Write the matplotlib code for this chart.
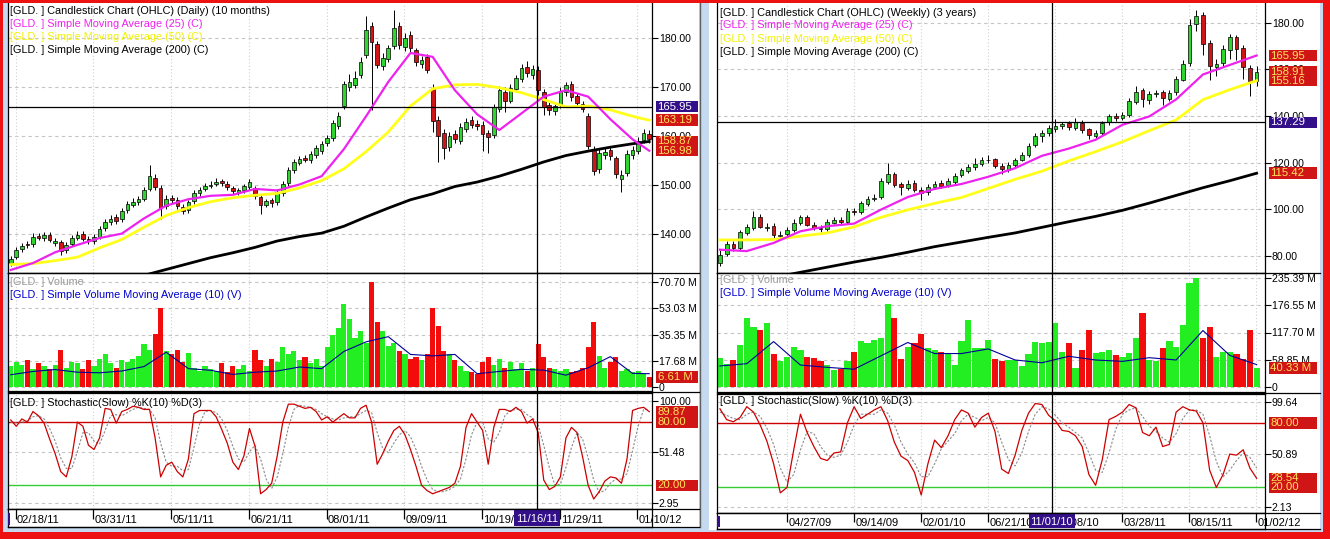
import numpy as np
import matplotlib.pyplot as plt
from matplotlib.patches import Rectangle
from matplotlib.lines import Line2D

plt.rcParams['font.family'] = ['Liberation Sans', 'DejaVu Sans']
W, H = 1330, 539
FS = 7.6

# ---------------- daily chart (one candle per two sessions), 10 months ----------------
d_open = [134.2, 135.4, 136.9, 137.9, 137.9, 139.6, 139.2, 139.9, 138.2, 138.3,
          136.7, 138.0, 139.3, 140.0, 139.1, 138.6, 139.5, 141.2, 142.4, 143.4,
          143.0, 144.9, 146.0, 146.5, 147.2, 149.2, 151.5, 149.3, 145.8, 147.4,
          147.0, 145.6, 145.0, 146.7, 148.3, 149.2, 149.8, 150.3, 150.8, 150.3,
          149.3, 148.5, 148.9, 149.6, 149.4, 147.5, 146.0, 146.9, 146.6, 148.4,
          150.5, 153.1, 154.5, 155.6, 155.0, 156.1, 157.0, 158.6, 159.6, 162.1,
          166.0, 170.0, 170.4, 172.4, 176.5, 182.4, 178.7, 174.2, 175.7, 178.4,
          182.4, 178.1, 180.6, 177.4, 174.6, 176.0, 169.8, 163.2, 160.6, 157.8,
          160.4, 159.0, 161.4, 163.2, 162.5, 162.2, 160.6, 160.2, 165.5, 169.0,
          167.2, 169.6, 171.6, 174.1, 172.4, 173.4, 168.9, 166.3, 165.0, 166.4,
          169.0, 170.6, 168.1, 166.4, 164.0, 157.2, 153.3, 156.2, 157.1, 155.4,
          151.2, 152.5, 156.2, 157.0, 159.2, 160.4]
d_high = [135.5, 137.4, 138.2, 138.5, 140.2, 140.3, 140.5, 140.4, 139.3, 138.9,
          138.4, 139.8, 140.6, 140.6, 139.6, 140.0, 141.6, 143.0, 143.8, 144.0,
          145.3, 146.8, 147.3, 147.8, 149.6, 154.0, 152.3, 150.0, 147.9, 147.9,
          147.6, 146.2, 147.0, 149.0, 149.6, 150.4, 150.8, 151.4, 151.3, 150.8,
          149.8, 149.4, 150.3, 151.2, 149.9, 147.9, 147.2, 147.4, 149.1, 150.8,
          153.6, 155.2, 155.9, 156.2, 156.9, 158.2, 159.0, 160.1, 163.3, 164.8,
          171.2, 172.6, 173.2, 176.0, 184.4, 183.2, 179.4, 176.8, 178.6, 185.6,
          183.2, 181.0, 181.4, 178.0, 176.3, 176.6, 170.5, 164.0, 161.4, 160.8,
          161.2, 162.6, 163.6, 164.0, 163.2, 163.0, 161.2, 166.5, 170.2, 170.0,
          170.6, 172.5, 174.6, 175.2, 174.4, 174.2, 169.6, 167.0, 166.8, 170.0,
          171.0, 171.2, 168.8, 167.2, 164.6, 158.0, 157.3, 157.5, 157.8, 156.0,
          153.0, 157.1, 157.9, 159.7, 161.5, 161.2]
d_low = [133.6, 135.0, 136.4, 137.2, 137.4, 138.7, 138.6, 138.3, 137.6, 135.8,
         136.1, 137.5, 138.8, 138.5, 137.9, 138.0, 139.0, 140.6, 141.9, 142.0,
         142.5, 144.3, 145.5, 146.0, 146.7, 148.7, 149.0, 143.0, 145.2, 146.2,
         145.2, 144.0, 144.4, 146.2, 147.8, 148.7, 149.3, 149.7, 149.9, 148.9,
         148.2, 147.9, 148.3, 149.0, 147.2, 144.1, 145.5, 145.5, 146.0, 147.8,
         149.9, 152.5, 154.0, 154.6, 154.4, 155.5, 156.4, 158.0, 159.0, 161.5,
         165.5, 169.2, 169.8, 171.8, 175.8, 165.2, 173.8, 173.5, 175.0, 177.6,
         177.6, 177.3, 177.1, 174.2, 173.8, 172.8, 160.8, 154.6, 155.2, 157.0,
         158.6, 158.3, 160.8, 161.6, 161.3, 157.0, 156.6, 159.5, 164.8, 164.9,
         166.8, 169.0, 170.9, 172.0, 171.6, 168.4, 164.3, 164.2, 164.3, 165.7,
         168.2, 167.2, 165.9, 164.8, 157.3, 152.0, 152.4, 155.3, 155.1, 151.4,
         148.6, 151.8, 155.3, 156.4, 158.6, 158.6]
d_close = [135.0, 136.8, 137.6, 137.8, 139.5, 139.3, 139.8, 138.8, 138.6, 136.5,
           137.8, 139.2, 139.9, 139.0, 138.5, 139.4, 141.0, 142.5, 143.1, 142.6,
           144.8, 146.2, 146.6, 147.1, 149.0, 151.9, 149.6, 145.4, 147.2, 146.9,
           145.8, 144.8, 146.5, 148.4, 149.0, 149.7, 150.1, 150.7, 150.5, 149.5,
           148.8, 148.9, 149.8, 150.6, 147.8, 146.0, 146.7, 146.3, 148.6, 150.2,
           153.0, 154.6, 155.3, 155.1, 156.3, 157.6, 158.3, 159.5, 162.7, 164.0,
           170.5, 171.0, 171.8, 175.0, 181.5, 179.2, 174.5, 175.9, 177.9, 182.0,
           178.5, 180.0, 178.0, 175.0, 175.5, 173.5, 163.0, 160.0, 157.5, 160.0,
           159.3, 161.8, 162.8, 162.3, 162.0, 160.3, 159.7, 165.8, 169.4, 167.1,
           169.8, 171.8, 173.8, 172.8, 173.7, 169.3, 165.8, 165.2, 166.0, 169.2,
           170.3, 168.0, 166.7, 165.5, 158.0, 152.9, 156.6, 156.8, 156.0, 152.2,
           152.1, 156.4, 157.2, 159.0, 160.6, 159.4]
d_volume = [14, 17, 15, 18, 12, 16, 14, 12, 15, 25,
            13, 17, 16, 12, 18, 14, 19, 22, 16, 13,
            18, 17, 19, 21, 29, 25, 36, 53, 24, 22,
            25, 17, 23, 13, 11, 14, 12, 11, 16, 10,
            14, 12, 15, 11, 25, 18, 14, 19, 17, 27,
            22, 24, 18, 20, 16, 19, 14, 27, 35, 40,
            56, 46, 33, 38, 30, 71, 44, 38, 28, 30,
            24, 22, 19, 20, 18, 22, 53, 41, 24, 22,
            18, 14, 11, 10, 9, 17, 20, 15, 19, 13,
            17, 12, 16, 11, 13, 29, 20, 13, 12, 11,
            12, 10, 11, 13, 27, 44, 21, 13, 17, 20,
            11, 12, 10, 11, 9, 6.61]
d_stoch_k = [82, 76, 83, 80, 90, 86, 79, 64, 50, 33,
             28, 47, 80, 76, 58, 54, 65, 93, 92, 79,
             90, 92, 95, 94, 92, 92, 65, 28, 39, 42,
             33, 28, 45, 88, 91, 91, 91, 85, 73, 60,
             42, 35, 48, 74, 57, 12, 16, 22, 48, 80,
             97, 97, 95, 93, 94, 90, 82, 85, 80, 84,
             88, 84, 84, 93, 96, 80, 40, 50, 62, 72,
             76, 68, 54, 38, 20, 15, 12, 14, 16, 18,
             22, 38, 75, 88, 80, 72, 40, 75, 92, 92,
             90, 94, 90, 79, 83, 70, 25, 16, 19, 28,
             65, 75, 70, 47, 20, 7, 14, 24, 28, 27,
             22, 45, 91, 93, 94, 89.87]
d_stoch_d = [80, 79, 80, 81, 85, 86, 83, 74, 62, 46,
             36, 36, 52, 70, 70, 62, 59, 72, 86, 87,
             86, 89, 92, 94, 93, 92, 84, 60, 42, 38,
             38, 34, 35, 56, 78, 90, 91, 89, 83, 72,
             57, 45, 42, 52, 58, 45, 26, 17, 28, 50,
             75, 92, 96, 95, 94, 92, 88, 85, 83, 82,
             84, 85, 85, 88, 91, 89, 70, 55, 51, 60,
             68, 72, 66, 54, 38, 25, 16, 14, 14, 16,
             19, 26, 45, 68, 80, 80, 64, 61, 70, 86,
             91, 92, 92, 87, 84, 77, 58, 37, 20, 21,
             37, 56, 70, 64, 46, 25, 13, 15, 22, 26,
             26, 31, 53, 76, 92, 92]
# moving averages read every 4th candle, plus the last one
d_sma25 = [132.7, 134.1, 136.3, 137.8, 139.2, 140.1, 143.2, 145.8, 147.1, 147.8,
           148.0, 149.2, 148.9, 150.1, 151.8, 157.3, 164.0, 171.0, 176.9, 176.1,
           169.3, 164.4, 161.2, 164.6, 168.0, 169.3, 168.0, 163.4, 159.3, 156.98]
d_sma50 = [133.8, 134.0, 134.6, 135.3, 137.2, 138.9, 141.4, 143.8, 145.4, 146.6,
           147.4, 147.9, 148.3, 149.4, 150.9, 153.3, 156.8, 160.8, 166.1, 169.6,
           170.4, 170.5, 169.8, 168.8, 167.4, 165.9, 166.1, 165.3, 164.0, 163.19]
d_sma200 = [124.0, 125.3, 126.5, 127.8, 129.0, 130.3, 131.6, 132.8, 134.0, 135.2,
            136.2, 137.3, 138.6, 139.5, 140.2, 141.6, 143.5, 145.3, 147.0, 148.2,
            149.7, 150.6, 151.8, 153.2, 154.7, 156.0, 156.9, 157.7, 158.4, 158.87]
d_vol_sma = [8.3, 10.5, 11.8, 10.0, 9.6, 10.8, 13.8, 23.5, 12.4, 11.3,
             8.5, 10.0, 10.8, 13.5, 12.4, 24.0, 30.5, 34.0, 22.0, 21.0,
             22.0, 9.0, 10.5, 11.9, 11.4, 8.0, 13.0, 20.5, 9.2, 9.0]
d_dates = ['02/18/11', '03/31/11', '05/11/11', '06/21/11', '08/01/11',
           '09/09/11', '10/19/11', '11/29/11', '01/10/12']
d_cross_date = '11/16/11'
d_cross_price = 165.95

# ---------------- weekly chart (one candle per two weeks), 3 years ----------------
w_open = [77.0, 80.8, 85.2, 83.5, 89.8, 92.0, 96.8, 92.0, 92.8, 88.6,
          89.2, 91.2, 94.2, 96.6, 93.2, 92.1, 91.5, 94.2, 95.4, 94.6,
          99.4, 98.6, 102.3, 104.5, 105.3, 111.8, 115.0, 110.6, 109.2, 111.2,
          108.4, 107.2, 109.4, 111.3, 110.2, 111.7, 114.5, 116.4, 118.0, 119.2,
          121.0, 121.5, 118.6, 117.0, 118.8, 121.2, 123.2, 127.4, 131.2, 132.8,
          134.6, 135.6, 136.8, 135.0, 137.0, 134.2, 131.6, 132.9, 137.3, 140.0,
          139.3, 140.3, 146.2, 151.0, 147.0, 149.6, 150.2, 147.3, 150.1, 155.6,
          162.8, 179.3, 183.4, 171.5, 161.0, 162.7, 168.5, 174.0, 169.3, 160.5,
          155.0]
w_high = [82.5, 86.5, 86.4, 91.0, 93.6, 99.0, 97.8, 94.0, 94.0, 90.5,
          92.4, 95.6, 97.4, 97.6, 94.3, 93.4, 95.6, 96.6, 96.6, 100.4,
          100.4, 103.6, 105.6, 106.5, 113.5, 120.0, 116.0, 111.8, 112.5, 112.4,
          109.6, 110.8, 112.2, 112.4, 113.2, 115.6, 117.8, 119.5, 122.0, 122.3,
          123.2, 122.0, 119.6, 120.2, 122.0, 124.6, 128.4, 132.6, 133.8, 136.2,
          138.6, 137.6, 138.0, 139.2, 138.2, 135.0, 133.8, 138.0, 141.0, 141.2,
          141.8, 147.8, 153.0, 152.0, 150.8, 151.2, 151.0, 151.2, 157.0, 164.0,
          181.5, 185.5, 184.5, 172.5, 164.5, 170.5, 175.0, 174.8, 170.5, 162.0,
          161.5]
w_low = [75.8, 80.0, 82.2, 82.5, 89.0, 91.2, 91.8, 90.6, 87.8, 87.9,
         88.4, 90.2, 93.4, 92.6, 91.0, 90.0, 90.8, 93.6, 93.4, 93.8,
         97.6, 97.8, 101.4, 103.4, 104.4, 111.0, 109.6, 106.0, 108.2, 107.2,
         104.0, 106.2, 108.6, 109.0, 109.5, 110.8, 113.8, 115.6, 117.0, 118.4,
         120.0, 117.5, 115.2, 116.0, 118.0, 120.5, 122.4, 126.5, 129.0, 131.6,
         133.2, 134.2, 133.8, 134.0, 132.8, 130.0, 130.0, 132.0, 136.2, 138.0,
         138.2, 139.5, 145.0, 144.0, 145.2, 148.0, 144.8, 146.5, 149.0, 154.8,
         161.5, 176.5, 166.0, 155.6, 157.0, 161.0, 164.5, 164.0, 156.0, 148.5,
         153.0]
w_close = [80.5, 85.0, 83.3, 90.0, 92.3, 96.5, 92.5, 92.5, 88.8, 89.0,
           91.0, 94.0, 96.5, 93.4, 92.0, 91.3, 94.4, 95.2, 94.3, 99.2,
           98.8, 102.5, 104.2, 105.0, 112.0, 115.2, 110.4, 109.4, 111.0, 108.2,
           107.0, 109.5, 111.0, 110.0, 111.9, 114.4, 116.6, 118.2, 119.4, 121.1,
           121.3, 118.4, 117.2, 119.0, 121.0, 123.4, 127.0, 131.5, 132.5, 134.8,
           135.8, 136.5, 135.3, 137.3, 134.0, 131.8, 132.7, 137.0, 139.8, 139.1,
           140.5, 146.6, 150.5, 147.2, 149.5, 150.0, 147.5, 149.9, 155.8, 162.5,
           179.0, 183.0, 171.0, 161.3, 162.5, 168.8, 173.8, 168.8, 161.0, 154.8,
           158.91]
w_volume = [62, 50, 58, 90, 150, 130, 124, 138, 70, 55,
            65, 87, 80, 65, 62, 56, 48, 36, 38, 55,
            76, 100, 94, 102, 105, 180, 150, 60, 87, 95,
            115, 84, 80, 75, 70, 47, 100, 145, 85, 84,
            102, 60, 55, 58, 58, 45, 70, 98, 94, 98,
            138, 76, 94, 40, 80, 124, 73, 76, 80, 69,
            65, 73, 105, 160, 58, 55, 84, 100, 87, 134,
            225, 235, 105, 130, 65, 76, 76, 70, 60, 124,
            40.33]
w_stoch_k = [93, 83, 81, 85, 95, 90, 78, 63, 42, 15,
             20, 55, 88, 71, 58, 47, 45, 52, 53, 80,
             95, 84, 88, 92, 95, 82, 62, 49, 45, 34,
             13, 42, 64, 57, 68, 83, 92, 89, 76, 85,
             89, 72, 37, 33, 50, 73, 89, 98, 97, 87,
             82, 73, 72, 68, 58, 32, 22, 46, 83, 86,
             90, 97, 94, 71, 68, 76, 58, 60, 90, 95,
             92, 91, 80, 36, 20, 32, 51, 50, 55, 38,
             28.54]
w_stoch_d = [90, 87, 84, 83, 88, 90, 86, 75, 60, 38,
             25, 32, 55, 72, 70, 58, 50, 48, 50, 62,
             78, 88, 88, 88, 92, 89, 78, 62, 51, 43,
             30, 30, 42, 56, 63, 70, 82, 88, 85, 82,
             85, 80, 62, 46, 40, 52, 72, 88, 95, 93,
             87, 80, 76, 71, 66, 52, 36, 34, 52, 74,
             88, 92, 94, 86, 77, 72, 66, 62, 70, 84,
             92, 92, 88, 68, 44, 30, 36, 45, 52, 48,
             38]
# moving averages read every 4th candle
w_sma25 = [82.6, 82.0, 85.5, 90.5, 92.7, 93.8, 99.8, 105.2, 108.7, 110.8, 113.9,
           117.6, 122.9, 126.0, 129.8, 136.2, 139.8, 147.1, 157.8, 161.9, 165.95]
w_sma50 = [86.8, 86.8, 87.0, 88.4, 89.8, 92.4, 96.5, 99.7, 102.5, 105.0, 108.9,
           112.8, 116.3, 120.7, 124.7, 128.9, 133.7, 138.3, 147.0, 151.3, 155.16]
w_sma200 = [66.5, 68.7, 70.7, 72.9, 75.1, 77.3, 79.3, 81.5, 83.9, 85.9, 87.9,
            89.8, 92.2, 94.6, 96.9, 99.5, 102.6, 105.9, 109.2, 112.2, 115.42]
w_vol_sma = [45, 50, 98, 47, 42, 38, 67, 96, 72, 72, 82,
             58, 52, 66, 58, 55, 63, 58, 122, 68, 48]
w_dates = ['04/27/09', '09/14/09', '02/01/10', '06/21/10', '11/08/10',
           '03/28/11', '08/15/11', '01/02/12']
w_cross_date = '11/01/10'
w_cross_price = 137.29

GREEN, RED = '#2fd42f', '#cf1515'
VGREEN, VRED = '#22ee22', '#f20c0c'
PURPLE = '#33108a'
LBLUE = '#c5daf0'

fig = plt.figure(figsize=(W / 100, H / 100), dpi=100, facecolor=LBLUE)


def add_px(x0, y0, x1, y1, **kw):
    return fig.add_axes([x0 / W, 1 - y1 / H, (x1 - x0) / W, (y1 - y0) / H], **kw)


def rect_px(x0, y0, x1, y1, color, z=-5):
    fig.add_artist(Rectangle((x0 / W, 1 - y1 / H), (x1 - x0) / W, (y1 - y0) / H,
                             transform=fig.transFigure, facecolor=color,
                             edgecolor='none', zorder=z))


def hline_px(y, x0, x1, color='black', lw=0.9):
    fig.add_artist(Line2D([x0 / W, x1 / W], [1 - y / H] * 2, transform=fig.transFigure,
                          color=color, lw=lw, zorder=20))


def vline_px(x, y0, y1, color='black', lw=0.9):
    fig.add_artist(Line2D([x / W] * 2, [1 - y0 / H, 1 - y1 / H], transform=fig.transFigure,
                          color=color, lw=lw, zorder=20))


def style_pane(ax, xlim, ylim, yticks, ylabels, xticks):
    ax.set_xlim(*xlim)
    ax.set_ylim(*ylim)
    ax.set_facecolor('white')
    ax.yaxis.tick_right()
    ax.set_yticks(yticks)
    ax.set_yticklabels(ylabels)
    ax.set_xticks(xticks)
    ax.tick_params(axis='x', length=0, labelbottom=False)
    ax.tick_params(axis='y', direction='out', length=4, width=0.8, pad=1,
                   labelsize=FS, colors='black')
    for s in ax.spines.values():
        s.set_color('black')
        s.set_linewidth(0.9)
    for v in yticks:
        ax.axhline(v, color='#c4c4c4', lw=0.8, ls=(0, (3, 3)), zorder=0)
    for t in xticks:
        ax.axvline(t, color='#cfcfcf', lw=0.8, ls=(0, (1, 2)), zorder=0)


def side_axes(ax, x0, y0, x1, y1):
    s = add_px(x0, y0, x1, y1, sharey=ax)
    s.set_xlim(0, x1 - x0)
    s.axis('off')
    s.patch.set_alpha(0)
    ppu = (y1 - y0) / (ax.get_ylim()[1] - ax.get_ylim()[0])
    return s, ppu


def value_box(side, ppu, value, text, color=RED, tcolor='#ffe45c', x0=4, x1=46, h=11.5):
    hh = h / ppu
    side.add_patch(Rectangle((x0, value - hh / 2), x1 - x0, hh, facecolor=color,
                             edgecolor='none', zorder=5, clip_on=False))
    side.text(x0 + 1.5, value, text, color=tcolor, fontsize=FS + 0.6, va='center',
              ha='left', zorder=6, clip_on=False)


def candles(ax, x, o, h, l, c, width):
    o, h, l, c = map(np.asarray, (o, h, l, c))
    up = c >= o
    ax.vlines(x, l, h, color='black', lw=0.7, zorder=2)
    ax.bar(x, np.maximum(np.abs(c - o), 0.12), width, np.minimum(o, c),
           color=[GREEN if u else RED for u in up], edgecolor='black',
           linewidth=0.5, zorder=3)
    return up


def legend(x, y, lines):
    for i, (txt, col) in enumerate(lines):
        fig.text(x / W, 1 - (y + 13 * i) / H, txt, color=col, fontsize=FS + 0.2,
                 va='center', ha='left', zorder=30)


def date_strip(ax, xlim, ticks, labels, px_per_unit, cross, cross_label):
    ax.set_xlim(*xlim)
    ax.set_ylim(0, 1)
    ax.set_xticks([])
    ax.set_yticks([])
    for s in ax.spines.values():
        s.set_color('black')
        s.set_linewidth(0.9)
    ax.vlines(ticks, 0.45, 1, color='black', lw=0.9)
    for t, lab in zip(ticks, labels):
        ax.text(t + 1.5 / px_per_unit, 0.4, lab, fontsize=FS + 0.4, va='center',
                ha='left', color='black', clip_on=False)
    half = 23 / px_per_unit
    ax.add_patch(Rectangle((cross - half, 0.08), 2 * half, 0.84, facecolor=PURPLE,
                           edgecolor='none', zorder=5))
    ax.text(cross, 0.45, cross_label, fontsize=FS + 0.4, va='center', ha='center',
            color='white', zorder=6)
    ax.add_patch(Rectangle((xlim[0], 0.1), 2.5 / px_per_unit, 0.7, facecolor=PURPLE,
                           edgecolor='none', zorder=5))


# ---------------- window frames ----------------
rect_px(8, 2, 699, 527, 'white')
rect_px(709, 2, 1320, 530, 'white')
rect_px(0, 0, W, 2.5, '#ee1111', z=40)
rect_px(0, 0, 2.7, H, '#ee1111', z=40)
rect_px(1323, 0, W, H, '#ee1111', z=40)
rect_px(0, 532, W, H, '#ee1111', z=40)
vline_px(699.5, 2, 527, color='#606060', lw=1.0)

# ================= LEFT: daily =================
n_d = len(d_close)
d_x = np.arange(n_d) * 2 - 1.75
d_xlim = (-2.74, 229.25)
d_ppx = 2.776
d_ticks = np.arange(len(d_dates)) * 28
d_cross = 188
d_idx = list(range(0, n_d, 4)) + [n_d - 1]

axp = add_px(8, 2.5, 652, 273)
style_pane(axp, d_xlim, (132.08, 187.17), [140, 150, 160, 170, 180],
           ['140.00', '150.00', '160.00', '170.00', '180.00'], d_ticks)
axp.spines['top'].set_visible(False)
up_d = candles(axp, d_x, d_open, d_high, d_low, d_close, 1.3)
axp.plot(d_x[d_idx], d_sma200, color='black', lw=2.0, zorder=4)
axp.plot(d_x[d_idx], d_sma50, color='#ffff1a', lw=2.0, zorder=4)
axp.plot(d_x[d_idx], d_sma25, color='#ee22ee', lw=1.6, zorder=4)
axp.axhline(d_cross_price, color='black', lw=0.9, zorder=5)
axp.axvline(d_cross, color='black', lw=0.9, zorder=5)
legend(10, 11, [('[GLD. ] Candlestick Chart (OHLC) (Daily) (10 months)', 'black'),
                ('[GLD. ] Simple Moving Average (25) (C)', '#ee22ee'),
                ('[GLD. ] Simple Moving Average (50) (C)', '#f2f200'),
                ('[GLD. ] Simple Moving Average (200) (C)', 'black')])
sp, ppu = side_axes(axp, 652, 2.5, 699, 273)
value_box(sp, ppu, d_cross_price, f'{d_cross_price:.2f}', color=PURPLE, tcolor='white')
value_box(sp, ppu, d_sma50[-1], f'{d_sma50[-1]:.2f}')
value_box(sp, ppu, d_sma25[-1], f'{d_sma25[-1]:.2f}')
value_box(sp, ppu, d_sma200[-1], f'{d_sma200[-1]:.2f}')

axv = add_px(8, 273, 652, 391)
style_pane(axv, d_xlim, (-2.69, 76.96), [0, 17.68, 35.35, 53.03, 70.70],
           ['0', '17.68 M', '35.35 M', '53.03 M', '70.70 M'], d_ticks)
axv.bar(d_x, d_volume, 1.85, color=[VGREEN if u else VRED for u in up_d], zorder=2)
axv.plot(d_x[d_idx], d_vol_sma, color='#000099', lw=0.8, zorder=4)
axv.axvline(d_cross, color='black', lw=0.9, zorder=5)
legend(10, 282, [('[GLD. ] Volume', '#9a9a9a'),
                 ('[GLD. ] Simple Volume Moving Average (10) (V)', '#0000cc')])
sv, ppu = side_axes(axv, 652, 273, 699, 391)
value_box(sv, ppu, d_volume[-1], f'{d_volume[-1]:.2f} M')

axs = add_px(8, 393, 652, 509)
style_pane(axs, d_xlim, (-2.46, 107.59), [2.95, 51.48, 100],
           ['2.95', '51.48', '100.00'], d_ticks)
axs.axhline(80, color='#cc0000', lw=1.0, zorder=1)
axs.axhline(20, color='#33cc33', lw=1.0, zorder=1)
axs.plot(d_x, d_stoch_d, color='#8a8a8a', lw=0.8, ls=(0, (2, 1.5)), zorder=3)
axs.plot(d_x, d_stoch_k, color='#cc0000', lw=0.9, zorder=4)
axs.axvline(d_cross, color='black', lw=0.9, zorder=5)
legend(10, 403, [('[GLD. ] Stochastic(Slow) %K(10) %D(3)', 'black')])
ss, ppu = side_axes(axs, 652, 393, 699, 509)
value_box(ss, ppu, d_stoch_k[-1], f'{d_stoch_k[-1]:.2f}')
value_box(ss, ppu, 80, '80.00')
value_box(ss, ppu, 20, '20.00')

axd = add_px(8, 509, 652, 527)
date_strip(axd, d_xlim, d_ticks, d_dates, d_ppx, d_cross, d_cross_date)

for y in (273, 392, 509, 527):
    hline_px(y, 8, 699)

# ================= RIGHT: weekly =================
n_w = len(w_close)
w_x = np.arange(n_w) * 2 - 19.9
w_xlim = (-20.78, 142.6)
w_ppx = 3.354
w_ticks = np.arange(len(w_dates)) * 20
w_cross = 79
w_idx = list(range(0, n_w, 4))

bxp = add_px(717, 2.5, 1265, 273)
style_pane(bxp, w_xlim, (72.6, 188.7), [80, 100, 120, 140, 160, 180],
           ['80.00', '100.00', '120.00', '140.00', '160.00', '180.00'], w_ticks)
bxp.spines['top'].set_visible(False)
up_w = candles(bxp, w_x, w_open, w_high, w_low, w_close, 1.1)
bxp.plot(w_x[w_idx], w_sma200, color='black', lw=2.0, zorder=4)
bxp.plot(w_x[w_idx], w_sma50, color='#ffff1a', lw=2.0, zorder=4)
bxp.plot(w_x[w_idx], w_sma25, color='#ee22ee', lw=1.6, zorder=4)
bxp.axhline(w_cross_price, color='black', lw=0.9, zorder=5)
bxp.axvline(w_cross, color='black', lw=0.9, zorder=5)
legend(720, 12.5, [('[GLD. ] Candlestick Chart (OHLC) (Weekly) (3 years)', 'black'),
                   ('[GLD. ] Simple Moving Average (25) (C)', '#ee22ee'),
                   ('[GLD. ] Simple Moving Average (50) (C)', '#f2f200'),
                   ('[GLD. ] Simple Moving Average (200) (C)', 'black')])
sp, ppu = side_axes(bxp, 1265, 2.5, 1320, 273)
value_box(sp, ppu, w_sma25[-1], f'{w_sma25[-1]:.2f}', x1=52)
value_box(sp, ppu, w_sma50[-1], f'{w_sma50[-1]:.2f}', x1=52)
value_box(sp, ppu, w_close[-1], f'{w_close[-1]:.2f}', x1=52)
value_box(sp, ppu, w_cross_price, f'{w_cross_price:.2f}', color=PURPLE, tcolor='white', x1=52)
value_box(sp, ppu, w_sma200[-1], f'{w_sma200[-1]:.2f}', x1=52)

bxv = add_px(717, 273, 1265, 392)
style_pane(bxv, w_xlim, (-11.5, 246.9), [0, 58.85, 117.70, 176.55, 235.39],
           ['0', '58.85 M', '117.70 M', '176.55 M', '235.39 M'], w_ticks)
bxv.bar(w_x, w_volume, 1.85, color=[VGREEN if u else VRED for u in up_w], zorder=2)
bxv.plot(w_x[w_idx], w_vol_sma, color='#000099', lw=0.8, zorder=4)
bxv.axvline(w_cross, color='black', lw=0.9, zorder=5)
legend(720, 280, [('[GLD. ] Volume', '#9a9a9a'),
                  ('[GLD. ] Simple Volume Moving Average (10) (V)', '#0000cc')])
sv, ppu = side_axes(bxv, 1265, 273, 1320, 392)
value_box(sv, ppu, w_volume[-1], f'{w_volume[-1]:.2f} M', x1=52)

bxs = add_px(717, 394, 1265, 513)
style_pane(bxs, w_xlim, (-3.72, 106.79), [2.13, 50.89, 99.64],
           ['2.13', '50.89', '99.64'], w_ticks)
bxs.axhline(80, color='#cc0000', lw=1.0, zorder=1)
bxs.axhline(20, color='#33cc33', lw=1.0, zorder=1)
bxs.plot(w_x, w_stoch_d, color='#8a8a8a', lw=0.8, ls=(0, (2, 1.5)), zorder=3)
bxs.plot(w_x, w_stoch_k, color='#cc0000', lw=0.9, zorder=4)
bxs.axvline(w_cross, color='black', lw=0.9, zorder=5)
legend(720, 401.5, [('[GLD. ] Stochastic(Slow) %K(10) %D(3)', 'black')])
ss, ppu = side_axes(bxs, 1265, 394, 1320, 513)
value_box(ss, ppu, 80, '80.00', x1=52)
value_box(ss, ppu, w_stoch_k[-1], f'{w_stoch_k[-1]:.2f}', x1=52)
value_box(ss, ppu, 20, '20.00', x1=52)

bxd = add_px(717, 513, 1265, 529)
date_strip(bxd, w_xlim, w_ticks, w_dates, w_ppx, w_cross, w_cross_date)

for y in (273, 393, 513, 529):
    hline_px(y, 717, 1320)

fig.savefig('out.png', dpi=100, facecolor=fig.get_facecolor())
